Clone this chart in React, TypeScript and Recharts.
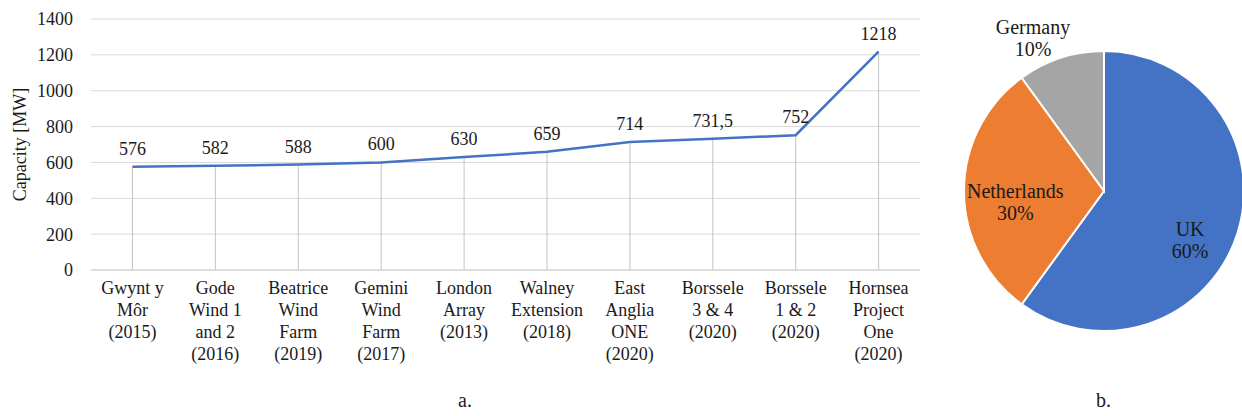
import React from "react";
import {
  ComposedChart,
  Line,
  Bar,
  XAxis,
  YAxis,
  CartesianGrid,
  LabelList,
  PieChart,
  Pie,
  Cell,
} from "recharts";

const projects = [
  "Gwynt y\nMôr\n(2015)",
  "Gode\nWind 1\nand 2\n(2016)",
  "Beatrice\nWind\nFarm\n(2019)",
  "Gemini\nWind\nFarm\n(2017)",
  "London\nArray\n(2013)",
  "Walney\nExtension\n(2018)",
  "East\nAnglia\nONE\n(2020)",
  "Borssele\n3 & 4\n(2020)",
  "Borssele\n1 & 2\n(2020)",
  "Hornsea\nProject\nOne\n(2020)",
];
const capacities = [576, 582, 588, 600, 630, 659, 714, 731.5, 752, 1218];
const capacityTicks = [0, 200, 400, 600, 800, 1000, 1200, 1400];

const countries = ["UK", "Netherlands", "Germany"];
const shares = [60, 30, 10];
const countryColors = ["#4472C4", "#ED7D31", "#A5A5A5"];
// label placement tweaks per slice (radius factor, angle shift in degrees)
const labelRadius = [0.71, 0.64, 1.2];
const labelAngleShift = [-12, 8, 7];

const SERIF = "Liberation Serif, Tinos, DejaVu Serif, serif";

const lineData = projects.map((name, i) => ({ name, value: capacities[i] }));
const pieData = countries.map((name, i) => ({ name, value: shares[i] }));

const XTick = (props: any) => {
  const { x, y, payload } = props;
  const lines = String(payload.value).split("\n");
  return (
    <text x={x} y={y} textAnchor="middle" style={{ fontFamily: SERIF }} fontSize={18} fill="#1a1a1a">
      {lines.map((l, i) => (
        <tspan key={i} x={x} dy={i === 0 ? 16 : 22}>
          {l}
        </tspan>
      ))}
    </text>
  );
};

const formatValue = (v: any) => String(v).replace(".", ",");

const PieLabel = (props: any) => {
  const { cx, cy, midAngle, outerRadius, index, name, value } = props;
  const ang = ((midAngle + labelAngleShift[index]) * Math.PI) / 180;
  const r = outerRadius * labelRadius[index];
  const x = cx + r * Math.cos(ang);
  const y = cy - r * Math.sin(ang);
  return (
    <text x={x} y={y} textAnchor="middle" style={{ fontFamily: SERIF }} fontSize={20} fill="#1a1a1a">
      <tspan x={x} dy={-5}>{name}</tspan>
      <tspan x={x} dy={22}>{value}%</tspan>
    </text>
  );
};

export default function App() {
  return (
    <div style={{ position: "absolute", left: 0, top: 0, width: 1242, height: 416, background: "#fff", fontFamily: SERIF }}>
      <ComposedChart
        width={930}
        height={416}
        data={lineData}
        margin={{ top: 19, right: 10, left: 0, bottom: 0 }}
        style={{ position: "absolute", left: 0, top: 0, fontFamily: SERIF }}
      >
        <CartesianGrid vertical={false} stroke="#d9d9d9" />
        <XAxis
          dataKey="name"
          interval={0}
          height={146}
          tick={<XTick />}
          tickLine={false}
          axisLine={{ stroke: "#d0d0d0" }}
        />
        <YAxis
          width={91}
          domain={[0, 1400]}
          ticks={capacityTicks}
          axisLine={false}
          tickLine={false}
          tickMargin={12}
          tick={{ fontSize: 18, fill: "#1a1a1a", style: { fontFamily: SERIF } }}
          label={{
            value: "Capacity [MW]",
            angle: -90,
            position: "insideLeft",
            offset: 20,
            style: { textAnchor: "middle", fontFamily: SERIF, fontSize: 18, fill: "#1a1a1a" },
          }}
        />
        <Bar dataKey="value" barSize={1} fill="#c4c4c4" isAnimationActive={false} />
        <Line
          type="linear"
          dataKey="value"
          stroke="#4472C4"
          strokeWidth={2.5}
          dot={false}
          isAnimationActive={false}
        >
          <LabelList
            dataKey="value"
            position="top"
            offset={12}
            formatter={formatValue}
            style={{ fontFamily: SERIF, fontSize: 18, fill: "#1a1a1a" }}
          />
        </Line>
      </ComposedChart>

      <PieChart
        width={300}
        height={416}
        margin={{ top: 0, right: 0, left: 0, bottom: 0 }}
        style={{ position: "absolute", left: 955, top: 0, fontFamily: SERIF }}
      >
        <Pie
          data={pieData}
          dataKey="value"
          nameKey="name"
          cx={149}
          cy={191}
          outerRadius={140}
          startAngle={90}
          endAngle={-270}
          stroke="#ffffff"
          strokeWidth={2}
          label={PieLabel}
          labelLine={false}
          isAnimationActive={false}
        >
          {pieData.map((d, i) => (
            <Cell key={d.name} fill={countryColors[i]} />
          ))}
        </Pie>
      </PieChart>

      <div style={{ position: "absolute", left: 458, top: 389, fontSize: 20, color: "#1a1a1a" }}>
        a.
      </div>
      <div style={{ position: "absolute", left: 1096, top: 389, fontSize: 20, color: "#1a1a1a" }}>
        b.
      </div>
    </div>
  );
}
